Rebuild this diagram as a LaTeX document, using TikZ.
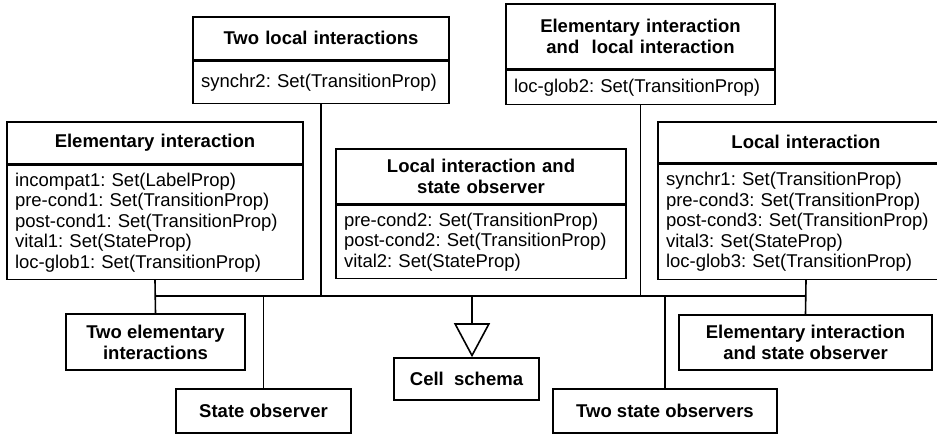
\documentclass[tikz,border=0pt]{standalone}
\usepackage{fontspec}
\setmainfont{Liberation Sans}
\frenchspacing
\usetikzlibrary{arrows.meta}
\begin{document}
\begin{tikzpicture}[x=1pt, y=-1pt, line width=1.6pt,
  every node/.style = {shape=rectangle, draw, line width=1.6pt, inner xsep=8pt, inner ysep=0pt,
    font=\fontsize{18.5}{20.5}\selectfont},
  classname/.style = {anchor=north, align=center, font=\fontsize{18.5}{21}\selectfont\bfseries},
  classattr/.style = {anchor=north, align=left},
  plainbox/.style = {align=center, inner xsep=0pt, font=\fontsize{18.5}{21}\selectfont\bfseries}]
\useasboundingbox (0,0) rectangle (937,434);
\node[classname, text width=280pt, minimum height=42pt] (elem-name) at (155,121) {Elementary interaction};
\node[classattr, text width=280pt, minimum height=114pt] (elem-attr) at (elem-name.south) {incompat1: Set(LabelProp)\\pre-cond1: Set(TransitionProp)\\post-cond1: Set(TransitionProp)\\vital1: Set(StateProp)\\loc-glob1: Set(TransitionProp)};
\node[classname, text width=240pt, minimum height=43pt] (twoloc-name) at (321,16) {Two local interactions};
\node[classattr, text width=240pt, minimum height=42pt] (twoloc-attr) at (twoloc-name.south) {synchr2: Set(TransitionProp)};
\node[classname, text width=253pt, minimum height=65pt] (elemloc-name) at (640.5,3) {Elementary interaction\\and\ \ local interaction};
\node[classattr, text width=253pt, minimum height=34pt] (elemloc-attr) at (elemloc-name.south) {loc-glob2: Set(TransitionProp)};
\node[classname, text width=274pt, minimum height=55pt] (locobs-name) at (481,148) {Local interaction and\\state observer};
\node[classattr, text width=274pt, minimum height=73pt] (locobs-attr) at (locobs-name.south) {pre-cond2: Set(TransitionProp)\\post-cond2: Set(TransitionProp)\\vital2: Set(StateProp)};
\node[classname, text width=280pt, minimum height=41pt] (loc-name) at (806,121) {Local interaction};
\node[classattr, text width=280pt, minimum height=115pt] (loc-attr) at (loc-name.south) {synchr1: Set(TransitionProp)\\pre-cond3: Set(TransitionProp)\\post-cond3: Set(TransitionProp)\\vital3: Set(StateProp)\\loc-glob3: Set(TransitionProp)};
\node[plainbox, minimum width=179pt, minimum height=56pt] (twoelem) at (155.5,342) {Two elementary\\interactions};
\node[plainbox, minimum width=175pt, minimum height=44pt] (stobs) at (263.5,411) {State observer};
\node[plainbox, minimum width=145pt, minimum height=42pt] (cell) at (466.5,379) {Cell\ \ schema};
\node[plainbox, minimum width=224pt, minimum height=44pt] (twostobs) at (665,411) {Two state observers};
\node[plainbox, minimum width=253pt, minimum height=55pt] (elemobs) at (805.5,342.5) {Elementary interaction\\and state observer};
\coordinate (busL) at (155,296);
\coordinate (busR) at (806,296);
\coordinate (hub) at (472,296);
\draw (busL) -- (busR);
\draw (elem-attr.south) -- (twoelem.north);
\draw (loc-attr.south) -- (elemobs.north);
\draw (twoloc-attr.south) -- (twoloc-attr.south |- busL);
\draw (elemloc-attr.south) -- (elemloc-attr.south |- busL);
\draw (stobs.north |- busL) -- (stobs.north);
\draw (twostobs.north |- busL) -- (twostobs.north);
\draw[-{Triangle[open, length=34pt, width=36pt]}] (hub) -- (hub |- cell.north);
\end{tikzpicture}
\end{document}
